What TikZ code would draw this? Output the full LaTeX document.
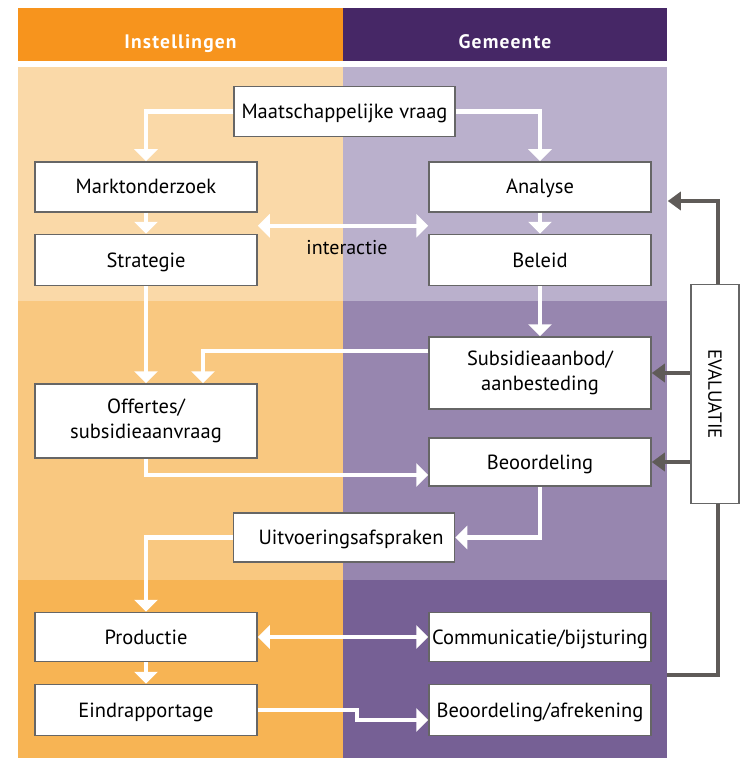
\documentclass[tikz,border=0pt]{standalone}
\usepackage{fontspec}
\setmainfont{PT Sans}
\usetikzlibrary{arrows.meta}
\definecolor{hdor}{HTML}{F7941D}
\definecolor{hdpu}{HTML}{462766}
\definecolor{ora}{HTML}{FAD9A8}
\definecolor{pua}{HTML}{BAB0CC}
\definecolor{orb}{HTML}{F9C880}
\definecolor{pub}{HTML}{9786AF}
\definecolor{orc}{HTML}{F7B454}
\definecolor{puc}{HTML}{766095}
\definecolor{boxgray}{HTML}{666666}
\definecolor{evgray}{HTML}{5F5B58}
\tikzset{
  box/.style={draw=boxgray, line width=1.5pt, fill=white, minimum width=222pt, minimum height=50pt, inner sep=0pt, align=center, text height=16pt, text depth=2pt, font=\fontsize{20.5}{25}\selectfont},
  box2/.style={box, text height=, text depth=},
  hdr/.style={text=white, anchor=base, font=\fontsize{19.5}{24}\selectfont\bfseries\addfontfeatures{LetterSpace=6}},
  warr/.style={draw=white, line width=4.5pt, -{Triangle[width=23pt,length=12pt]}},
  wdarr/.style={draw=white, line width=4.5pt, {Triangle[width=23pt,length=12pt]}-{Triangle[width=23pt,length=12pt]}},
  garr/.style={draw=evgray, line width=3.5pt, -{Triangle[width=18pt,length=13pt]}},
  gline/.style={draw=evgray, line width=3.5pt},
}
\begin{document}
\begin{tikzpicture}[x=1pt,y=-1pt]
\useasboundingbox (0,0) rectangle (740,759);
% headers
\fill[hdor] (18,8) rectangle (343,61);
\fill[hdpu] (343,8) rectangle (667,61);
\node[hdr] (hl) at (180.5,49) {Instellingen};
\node[hdr] (hr) at (505,49) {Gemeente};
% bands
\fill[ora] (18,67) rectangle (343,301);
\fill[pua] (343,67) rectangle (667,301);
\fill[orb] (18,301) rectangle (343,580);
\fill[pub] (343,301) rectangle (667,580);
\fill[orc] (18,580) rectangle (343,758);
\fill[puc] (343,580) rectangle (667,758);
% nodes
\node[box, minimum width=221pt] (mv) at (344.5,111.5) {Maatschappelijke vraag};
\node[box] (mk) at (146,187) {Marktonderzoek};
\node[box, minimum height=51pt] (st) at (146,260) {Strategie};
\node[box] (an) at (540,187) {Analyse};
\node[box, minimum height=51pt] (be) at (540,260) {Beleid};
\node[box2, minimum height=72pt] (sa) at (540,373) {Subsidieaanbod/\\aanbesteding};
\node[box2, minimum height=74pt] (of) at (146,421) {Offertes/\\subsidieaanvraag};
\node[box, minimum height=48pt] (bo) at (540,462) {Beoordeling};
\node[box, minimum width=221pt, minimum height=49pt] (ui) at (344,537.5) {\hspace*{14pt}Uitvoeringsafspraken};
\node[box, minimum height=49pt] (pr) at (146,637) {Productie};
\node[box, minimum height=51pt] (ei) at (146,710) {Eindrapportage};
\node[box, minimum height=49pt] (co) at (540,637) {Communicatie/bijsturing};
\node[box, minimum height=51pt] (ba) at (540,710) {Beoordeling/afrekening};
\node[box, minimum width=48pt, minimum height=219pt] (ev) at (715,394) {};
\node[rotate=-90, font=\fontsize{19}{22}\selectfont] (evt) at (ev.center) {EVALUATIE};
\node[font=\fontsize{20}{24}\selectfont] (ia) at (347,248) {interactie};
% white arrows
\draw[warr] (mv.west) -| (mk.north);
\draw[warr] (mv.east) -| (an.north);
\draw[warr] (mk) -- (st);
\draw[warr] (an) -- (be);
\draw[warr] (st) -- (of);
\draw[warr] (be) -- (sa);
\draw[warr] ([yshift=22pt]sa.west) -| ([xshift=57pt]of.north);
\draw[warr] (of.south) |- ([yshift=-13pt]bo.west);
\draw[warr] (bo.south) |- (ui.east);
\draw[warr] (ui.west) -| (pr.north);
\draw[warr] (pr) -- (ei);
\draw[wdarr] ([yshift=-13pt]mk.south east) -- ([yshift=-13pt]an.south west);
\draw[wdarr] (pr) -- (co);
\draw[warr] (ei.east) -- ++(99,0) |- ([yshift=-10pt]ba.west);
% evaluation
\coordinate (evend) at (667,675);
\draw[garr] ([xshift=3pt]ev.north) |- ([shift={(16pt,-14pt)}]an.east);
\draw[garr] (ev.west |- sa) -- (sa.east);
\draw[garr] (ev.west |- bo) -- (bo.east);
\draw[gline] ([xshift=3pt]ev.south) |- (evend);
\end{tikzpicture}
\end{document}
